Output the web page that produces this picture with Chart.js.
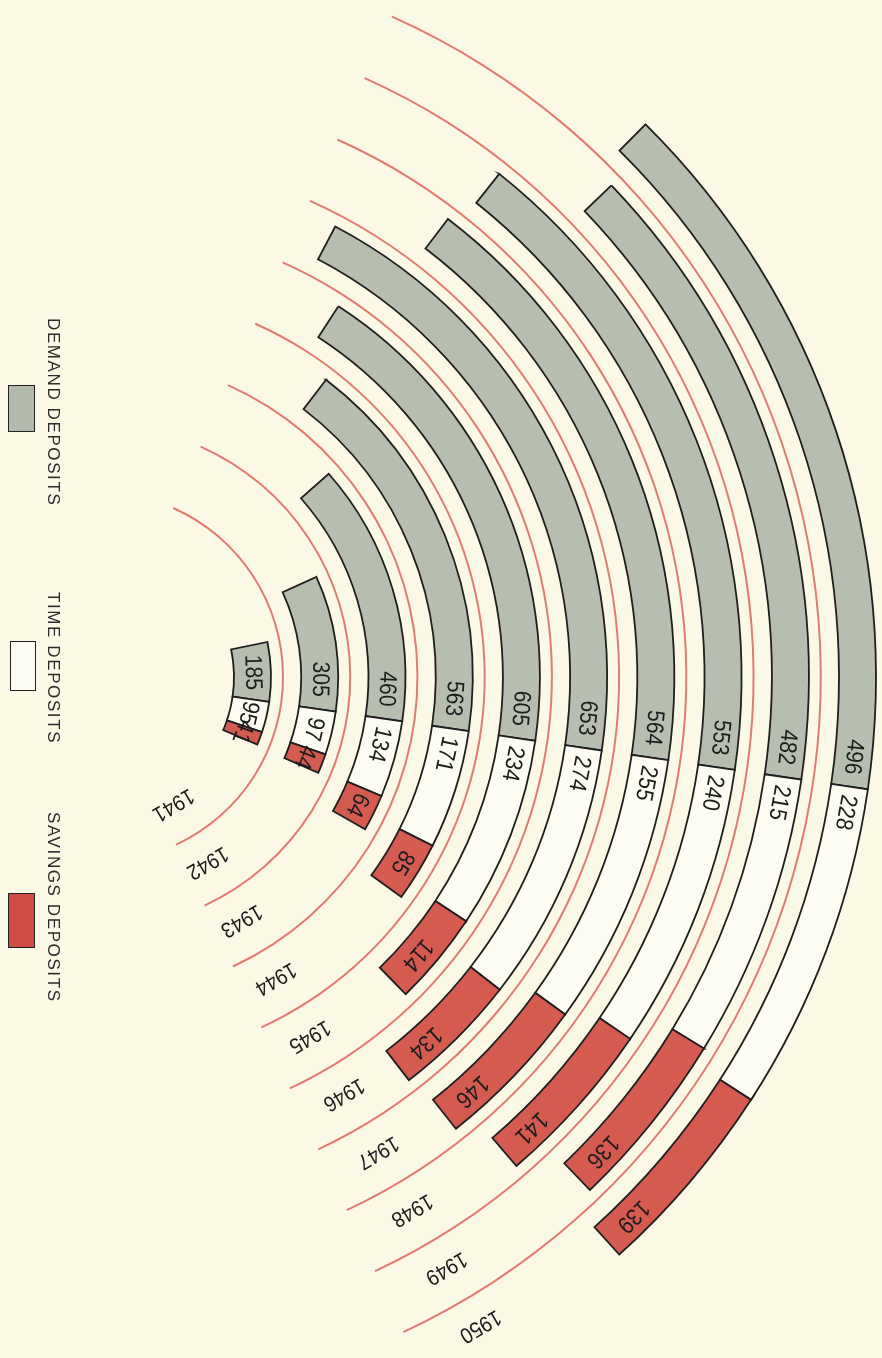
<!DOCTYPE html>
<html>
<head>
<meta charset="utf-8">
<script src="https://cdn.jsdelivr.net/npm/chart.js@4.4.1/dist/chart.umd.min.js"></script>
<style>
  html, body { margin: 0; padding: 0; background: #fbf8e5; }
  #wrap { position: relative; width: 882px; height: 1358px; overflow: hidden; background: #fbf8e5; }
  #c { position: absolute; left: -693px; top: -114px; }
  .lg-text { position: absolute; writing-mode: vertical-rl; font-family: "Liberation Sans", Arial, sans-serif;
             font-size: 17px; letter-spacing: 1.6px; color: #2a2a2a; white-space: nowrap; line-height: 20px; }
  .lg-box { position: absolute; border: 1.8px solid #222; box-sizing: border-box; }
</style>
</head>
<body>
<div id="wrap">
  <canvas id="c" width="1582" height="1582"></canvas>
</div>
<script>
// ---- data ----
const years   = ['1941','1942','1943','1944','1945','1946','1947','1948','1949','1950'];
const demand  = [185, 305, 460, 563, 605, 653, 564, 553, 482, 496];
const timeDep = [95, 97, 134, 171, 234, 274, 255, 240, 215, 228];
const savings = [41, 44, 64, 85, 114, 134, 146, 141, 136, 139];
const seriesNames = ['DEMAND DEPOSITS', 'TIME DEPOSITS', 'SAVINGS DEPOSITS'];

// ---- styling / layout constants ----
const seriesColors = ['#b7beb0', '#fdfcf2', '#d55b51'];
const legendColors = ['#b3baab', '#fdfcf2', '#cf4d44'];
const DEG_PER_UNIT = 0.108;   // angular scale of the bars
const BOUNDARY = 8.3;         // angle (deg) where demand meets time deposits
const RED_START = -66, RED_END = 65;
const W_RED = 2, W_GAP_OUT = 11, W_RING = 37, W_GAP_IN = 17.2;
const YEAR_ANGLE = 59.5;

const datasets = [];
for (let i = years.length - 1; i >= 0; i--) {
  if (i < years.length - 1) {
    datasets.push({ kind: 'redline', data: [1], backgroundColor: '#e27b73', borderWidth: 0,
                    weight: W_RED, rotation: RED_START + 90, circumference: RED_END - RED_START });
  } else {
    datasets.push({ kind: 'gap', data: [1], backgroundColor: 'rgba(0,0,0,0)', borderWidth: 0, weight: W_RED });
  }
  datasets.push({ kind: 'gap', data: [1], backgroundColor: 'rgba(0,0,0,0)', borderWidth: 0, weight: W_GAP_OUT });
  datasets.push({ kind: 'ring', year: years[i], label: years[i],
                  data: [demand[i], timeDep[i], savings[i]],
                  backgroundColor: seriesColors, borderColor: '#1f1f1f', borderWidth: 1.8,
                  borderJoinStyle: 'miter', weight: W_RING,
                  rotation: BOUNDARY - demand[i] * DEG_PER_UNIT + 90,
                  circumference: (demand[i] + timeDep[i] + savings[i]) * DEG_PER_UNIT });
  if (i > 0) datasets.push({ kind: 'gap', data: [1], backgroundColor: 'rgba(0,0,0,0)', borderWidth: 0, weight: W_GAP_IN });
}

function drawRotText(ctx, txt, x, y, rot, font, sx) {
  ctx.save();
  ctx.translate(x, y);
  ctx.rotate(rot);
  ctx.scale(sx, 1);
  ctx.font = font;
  ctx.fillStyle = '#1c1c1c';
  ctx.textAlign = 'center';
  ctx.textBaseline = 'middle';
  ctx.fillText(txt, 0, 0);
  ctx.restore();
}

const arcLabels = {
  id: 'arcLabels',
  afterDatasetsDraw(chart) {
    const ctx = chart.ctx;
    chart.data.datasets.forEach((ds, di) => {
      if (ds.kind !== 'ring') return;
      const meta = chart.getDatasetMeta(di);
      meta.data.forEach((arc, j) => {
        const p = arc.getProps(['x', 'y', 'startAngle', 'endAngle', 'innerRadius', 'outerRadius'], true);
        const rm = (p.innerRadius + p.outerRadius) / 2;
        const span = p.endAngle - p.startAngle;
        const inset = [30, 26, 36][j] / rm;
        const a = (j === 1) ? p.startAngle + Math.min(inset, span / 2)
                            : p.endAngle - Math.min(inset, span / 2);
        drawRotText(ctx, String(ds.data[j]), p.x + rm * Math.cos(a), p.y + rm * Math.sin(a),
                    a + Math.PI / 2, '24px "Liberation Sans", Arial, sans-serif', 0.88);
      });
      const p0 = meta.data[0].getProps(['x', 'y', 'innerRadius', 'outerRadius'], true);
      const ry = p0.innerRadius + 12;
      const ya = YEAR_ANGLE * Math.PI / 180;
      drawRotText(ctx, ds.year, p0.x + ry * Math.cos(ya), p0.y + ry * Math.sin(ya),
                  ya + Math.PI / 2, '22px "Liberation Sans", Arial, sans-serif', 0.9);
    });
  }
};

new Chart(document.getElementById('c'), {
  type: 'doughnut',
  data: { labels: seriesNames, datasets: datasets },
  options: {
    responsive: false,
    animation: false,
    events: [],
    cutout: 136,
    layout: { padding: 0 },
    plugins: { legend: { display: false }, tooltip: { enabled: false } },
    elements: { arc: { offset: 0, hoverOffset: 0 } }
  },
  plugins: [arcLabels]
});

// ---- legend (rotated, left edge) ----
const legendPos = [
  { text: [43, 318], box: [8, 385, 27, 47] },
  { text: [43, 592], box: [10, 641, 26, 50] },
  { text: [43, 812], box: [8, 893, 27, 55] }
];
const wrap = document.getElementById('wrap');
seriesNames.forEach((name, i) => {
  const t = document.createElement('div');
  t.className = 'lg-text';
  t.textContent = name;
  t.style.left = legendPos[i].text[0] + 'px';
  t.style.top = legendPos[i].text[1] + 'px';
  wrap.appendChild(t);
  const b = document.createElement('div');
  b.className = 'lg-box';
  const [bx, by, bw, bh] = legendPos[i].box;
  b.style.left = bx + 'px'; b.style.top = by + 'px';
  b.style.width = bw + 'px'; b.style.height = bh + 'px';
  b.style.background = legendColors[i];
  wrap.appendChild(b);
});
</script>
</body>
</html>
